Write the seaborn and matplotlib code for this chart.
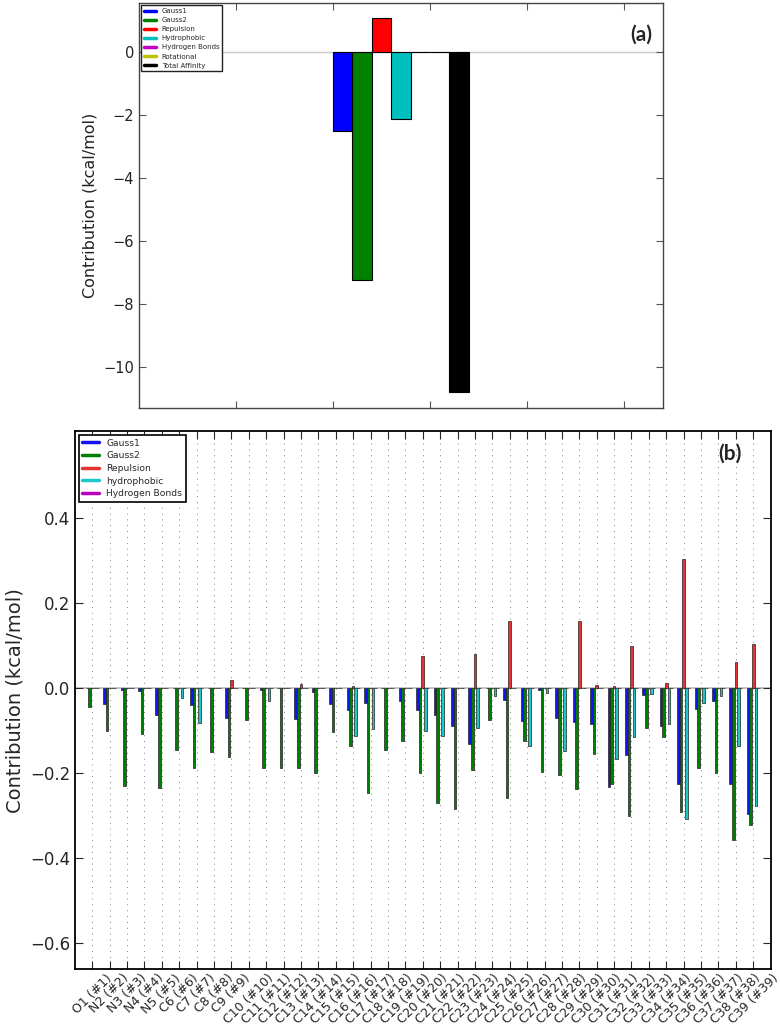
import matplotlib
matplotlib.use('Agg')
import matplotlib.pyplot as plt
from matplotlib.lines import Line2D
import pandas as pd
import seaborn as sns

# ---- panel (a): total contribution of each term ----
terms_a = ['Gauss1', 'Gauss2', 'Repulsion', 'Hydrophobic', 'Hydrogen Bonds',
           'Rotational', 'Total Affinity']
values_a = [-2.49, -7.22, 1.08, -2.12, 0.0, 0.0, -10.78]
colors_a = ['#0000ff', '#008000', '#ff0000', '#00bfbf', '#bf00bf', '#bfbf00', '#000000']

# ---- panel (b): per-atom contributions ----
atom_labels = ['O1 (#1)', 'N2 (#2)', 'N3 (#3)', 'N4 (#4)', 'N5 (#5)', 'C6 (#6)',
               'C7 (#7)', 'C8 (#8)', 'C9 (#9)', 'C10 (#10)', 'C11 (#11)', 'C12 (#12)',
               'C13 (#13)', 'C14 (#14)', 'C15 (#15)', 'C16 (#16)', 'C17 (#17)',
               'C18 (#18)', 'C19 (#19)', 'C20 (#20)', 'C21 (#21)', 'C22 (#22)',
               'C23 (#23)', 'C24 (#24)', 'C25 (#25)', 'C26 (#26)', 'C27 (#27)',
               'C28 (#28)', 'C29 (#29)', 'C30 (#30)', 'C31 (#31)', 'C32 (#32)',
               'C33 (#33)', 'C34 (#34)', 'C35 (#35)', 'C36 (#36)', 'C37 (#37)',
               'C38 (#38)', 'C39 (#39)']
gauss1 = [0.0, -0.039, -0.004, -0.007, -0.065, 0.0, -0.041, 0.0, -0.071, 0.0,
          -0.005, 0.0, -0.074, -0.010, -0.037, -0.051, -0.035, 0.0, -0.031, -0.051,
          -0.064, -0.090, -0.132, 0.0, -0.029, -0.078, -0.005, -0.070, -0.081, -0.086,
          -0.234, -0.158, -0.016, -0.089, -0.226, -0.050, -0.031, -0.226, -0.298]
gauss2 = [-0.045, -0.101, -0.231, -0.109, -0.235, -0.147, -0.188, -0.152, -0.162, -0.075,
          -0.189, -0.189, -0.189, -0.200, -0.103, -0.136, -0.247, -0.146, -0.125, -0.200,
          -0.270, -0.285, -0.193, -0.076, -0.260, -0.125, -0.198, -0.205, -0.239, -0.156,
          -0.226, -0.301, -0.094, -0.116, -0.292, -0.188, -0.200, -0.358, -0.323]
repulsion = [0.0, 0.0, 0.0, 0.0, 0.0, 0.0, 0.0, 0.0, 0.019, 0.0,
             0.0, 0.0, 0.009, 0.0, 0.0, 0.004, 0.0, 0.0, 0.0, 0.076,
             0.0, 0.0, 0.079, 0.0, 0.158, 0.0, 0.0, 0.0, 0.158, 0.006,
             0.004, 0.099, 0.0, 0.012, 0.303, 0.0, 0.0, 0.062, 0.104]
hydrophobic = [0.0, 0.0, 0.0, 0.0, 0.0, -0.025, -0.083, 0.0, 0.0, 0.0,
               -0.030, 0.0, 0.0, 0.0, 0.0, -0.113, -0.096, 0.0, 0.0, -0.102,
               -0.114, 0.0, -0.094, -0.020, 0.0, -0.138, -0.013, -0.148, 0.0, 0.0,
               -0.168, -0.116, -0.014, -0.085, -0.310, -0.035, -0.020, -0.136, -0.278]
hbonds = [0.0] * 39
terms_b = ['Gauss1', 'Gauss2', 'Repulsion', 'hydrophobic', 'Hydrogen Bonds']
colors_b = ['#1414f0', '#008000', '#e63232', '#1ec8c8', '#be00be']

sns.set_style('white')
plt.rcParams['font.family'] = ['DejaVu Sans']

fig = plt.figure(figsize=(7.8, 10.27), dpi=100)
ax_a = fig.add_axes([0.178, 0.603, 0.672, 0.394])
ax_b = fig.add_axes([0.096, 0.0565, 0.892, 0.5235])

# ---------- (a) ----------
df_a = pd.DataFrame({'group': ['ligand'] * len(terms_a), 'term': terms_a, 'value': values_a})
ax_a.axhline(0, color='#c8c8c8', lw=1, zorder=0)
sns.barplot(data=df_a, x='group', y='value', hue='term', hue_order=terms_a,
            palette=dict(zip(terms_a, colors_a)), width=1.4, saturation=1,
            errorbar=None, edgecolor='black', linewidth=0.8, legend=False, ax=ax_a)
ax_a.set_xlim(-2.7, 2.7)
ax_a.set_xticks([-1.7, -0.7, 0.3, 1.3, 2.3])
ax_a.set_xticklabels([])
ax_a.set_ylim(-11.28, 1.56)
ax_a.set_yticks([-10, -8, -6, -4, -2, 0])
ax_a.set_xlabel('')
ax_a.set_ylabel('Contribution (kcal/mol)', fontsize=11.5, color='#222222')
ax_a.tick_params(direction='in', top=True, bottom=True, left=True, right=True,
                 length=5, labelsize=10.5, colors='#555555', labelcolor='#222222')
for s in ax_a.spines.values():
    s.set_color('#444444')
    s.set_linewidth(1.0)
handles_a = [Line2D([], [], color=c, lw=2.5) for c in colors_a]
leg = ax_a.legend(handles_a, terms_a, loc='upper left', fontsize=5, handlelength=1.8,
                  labelspacing=0.45, borderaxespad=0.3, fancybox=False, framealpha=1)
leg.get_frame().set_edgecolor('#222222')
leg.get_frame().set_linewidth(1.0)
ax_a.text(0.979, 0.921, '(a)', transform=ax_a.transAxes, ha='right', va='center',
          fontsize=15, fontweight='bold', family='Lato')

# ---------- (b) ----------
df_b = pd.DataFrame({
    'atom': atom_labels * 5,
    'term': [t for t in terms_b for _ in atom_labels],
    'value': gauss1 + gauss2 + repulsion + hydrophobic + hbonds,
})
ax_b.axhline(0, color='#bbbbbb', lw=1.2, zorder=0)
sns.barplot(data=df_b, x='atom', y='value', hue='term', hue_order=terms_b,
            order=atom_labels, palette=dict(zip(terms_b, colors_b)), width=0.75,
            saturation=1, errorbar=None, edgecolor='#222222', linewidth=0.5,
            legend=False, ax=ax_b)
ax_b.set_xlim(-1, 39)
ax_b.set_ylim(-0.662, 0.604)
ax_b.set_yticks([-0.6, -0.4, -0.2, 0.0, 0.2, 0.4])
ax_b.set_xlabel('')
ax_b.set_ylabel('Contribution (kcal/mol)', fontsize=14)
ax_b.grid(axis='x', linestyle=(0, (1, 6)), lw=0.6, color='#555555')
ax_b.grid(axis='y', visible=False)
ax_b.set_axisbelow(True)
ax_b.tick_params(axis='x', labelrotation=45, labelsize=9, pad=2)
ax_b.tick_params(axis='y', labelsize=12)
ax_b.tick_params(direction='in', top=True, bottom=True, left=True, right=True, length=6)
for s in ax_b.spines.values():
    s.set_color('black')
    s.set_linewidth(1.3)
handles_b = [Line2D([], [], color=c, lw=2.5) for c in colors_b]
leg = ax_b.legend(handles_b, terms_b, loc='upper left', fontsize=6.6, handlelength=1.8,
                  labelspacing=0.4, borderaxespad=0.4, fancybox=False, framealpha=1)
leg.get_frame().set_edgecolor('black')
leg.get_frame().set_linewidth(1.2)
ax_b.text(0.958, 0.959, '(b)', transform=ax_b.transAxes, ha='right', va='center',
          fontsize=15, fontweight='bold', family='Lato')

fig.savefig('out.png', dpi=100)
